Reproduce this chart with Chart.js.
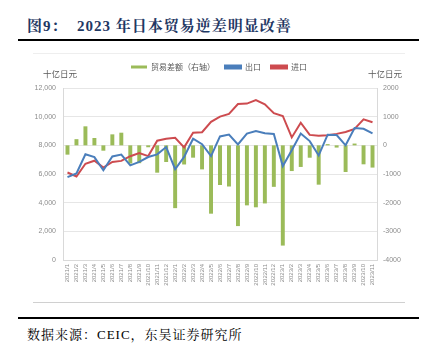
<!DOCTYPE html>
<html>
<head>
<meta charset="utf-8">
<script src="https://cdn.jsdelivr.net/npm/chart.js@4.4.1/dist/chart.umd.min.js"></script>
<style>
  html, body { margin: 0; padding: 0; background: #fff; }
  body { width: 429px; height: 357px; position: relative; overflow: hidden; }
  #title { position: absolute; left: 27px; top: 14px; font: bold 15px "Liberation Serif", "Noto Serif CJK SC", "Noto Sans CJK SC", serif; color: #1F3864; letter-spacing: 1px; white-space: nowrap; }
  .rule { position: absolute; left: 18px; width: 401px; height: 2px; background: #000; }
  #box { position: absolute; left: 33px; top: 53px; width: 372px; height: 250px; border-top: 1px solid #EEEEEE; border-bottom: 1px solid #D0D0D0; box-sizing: border-box; }
  #wrap { position: absolute; left: 33px; top: 53px; width: 372px; height: 250px; }
  .unit { position: absolute; top: 67px; font: 8.5px "Noto Sans CJK SC", sans-serif; color: #595959; white-space: nowrap; }
  #source { position: absolute; left: 27px; top: 324px; font: 13px "Liberation Serif", "Noto Serif CJK SC", "Noto Sans CJK SC", serif; color: #000; white-space: nowrap; letter-spacing: 1px; }
</style>
</head>
<body>
<div id="title">图9：&nbsp;&nbsp;2023 年日本贸易逆差明显改善</div>
<div class="rule" style="top:39px"></div>
<div id="box"></div>
<div id="wrap"><canvas id="c"></canvas></div>
<div class="unit" style="left:43px">十亿日元</div>
<div class="unit" style="left:368px">十亿日元</div>
<div class="rule" style="top:317px"></div>
<div id="source">数据来源：CEIC，东吴证券研究所</div>
<script>
const categories = [
  '2021/1','2021/2','2021/3','2021/4','2021/5','2021/6','2021/7','2021/8','2021/9','2021/10','2021/11','2021/12',
  '2022/1','2022/2','2022/3','2022/4','2022/5','2022/6','2022/7','2022/8','2022/9','2022/10','2022/11','2022/12',
  '2023/1','2023/2','2023/3','2023/4','2023/5','2023/6','2023/7','2023/8','2023/9','2023/10','2023/11'
];
const tradeBalance = [
  -325, 215, 663, 255, -187, 383, 441, -635, -623, -67, -954, -582,
  -2191, -668, -430, -839, -2384, -1384, -1436, -2817, -2094, -2162, -2027, -1448,
  -3497, -897, -754, -432, -1372, 43, -78, -930, 62, -662, -776
];
const exportsVal = [
  5780, 6040, 7378, 7181, 6261, 7221, 7355, 6606, 6841, 7183, 7368, 7881,
  6332, 7191, 8461, 8076, 7252, 8621, 8751, 8062, 8819, 9000, 8838, 8799,
  6551, 7655, 8823, 8295, 7293, 8742, 8720, 8000, 9204, 9150, 8835
];
const importsVal = [
  6105, 5825, 6715, 6926, 6448, 6838, 6914, 7241, 7464, 7250, 8322, 8463,
  8523, 7859, 8873, 8915, 9636, 10005, 10187, 10879, 10913, 11162, 10865, 10247,
  10048, 8552, 9577, 8727, 8665, 8699, 8800, 8930, 9142, 9812, 9611
];
const leftTicks = [0, 2000, 4000, 6000, 8000, 10000, 12000];
const rightTicks = [-4000, -3000, -2000, -1000, 0, 1000, 2000];
const seriesNames = ['贸易差额（右轴）', '出口', '进口'];

const tickColor = '#8C8C8C';
const legendPatch = {
  id: 'legendPatch',
  afterInit(chart) {
    const lg = chart.legend;
    if (!lg) return;
    const orig = lg.fit.bind(lg);
    lg.fit = function () { orig(); this.height = 35; };
  }
};

new Chart(document.getElementById('c'), {
  type: 'bar',
  data: {
    labels: categories,
    datasets: [
      { type: 'bar', label: seriesNames[0], data: tradeBalance, yAxisID: 'yR', backgroundColor: '#9BBB59', borderWidth: 0, barPercentage: 0.44, categoryPercentage: 1, order: 3 },
      { type: 'line', label: seriesNames[1], data: exportsVal, yAxisID: 'yL', borderColor: '#4A7EBB', backgroundColor: '#4A7EBB', borderWidth: 2, pointRadius: 0, tension: 0, order: 1 },
      { type: 'line', label: seriesNames[2], data: importsVal, yAxisID: 'yL', borderColor: '#CD4B4F', backgroundColor: '#CD4B4F', borderWidth: 2, pointRadius: 0, tension: 0, order: 2 }
    ]
  },
  options: {
    responsive: true,
    maintainAspectRatio: false,
    animation: false,
    layout: { padding: { left: 0, right: 0, top: 0, bottom: 0 } },
    font: { family: '"Liberation Sans", "Noto Sans CJK SC", sans-serif' },
    plugins: {
      tooltip: { enabled: false },
      legend: {
        display: true,
        position: 'top',
        labels: {
          boxWidth: 16, boxHeight: 3, padding: 10,
          color: '#595959',
          font: { size: 8, family: '"Noto Sans CJK SC", sans-serif' },
          sort: (a, b) => a.datasetIndex - b.datasetIndex
        }
      }
    },
    scales: {
      x: {
        grid: { display: false, drawTicks: false },
        border: { display: true, color: '#D9D9D9' },
        ticks: { color: tickColor, font: { size: 6, family: '"Liberation Sans", sans-serif' }, minRotation: 90, maxRotation: 90, autoSkip: false, padding: 4 },
        afterFit(s) { s.height = 43; }
      },
      yL: {
        position: 'left',
        min: 0, max: 12000,
        afterBuildTicks(s) { s.ticks = leftTicks.map(v => ({ value: v })); },
        grid: { color: '#E6E6E6', drawTicks: false, lineWidth: 1 },
        border: { display: true, color: '#D9D9D9' },
        ticks: { color: tickColor, font: { size: 7, family: '"Liberation Sans", sans-serif' }, padding: 7, callback: v => v.toLocaleString('en-US') },
        afterFit(s) { s.width = 30; }
      },
      yR: {
        position: 'right',
        min: -4000, max: 2000,
        afterBuildTicks(s) { s.ticks = rightTicks.map(v => ({ value: v })); },
        grid: { display: false, drawTicks: false },
        border: { display: true, color: '#D9D9D9' },
        ticks: { color: tickColor, font: { size: 7, family: '"Liberation Sans", sans-serif' }, padding: 6, callback: v => String(v) },
        afterFit(s) { s.width = 28; }
      }
    }
  },
  plugins: [legendPatch]
});
</script>
</body>
</html>
